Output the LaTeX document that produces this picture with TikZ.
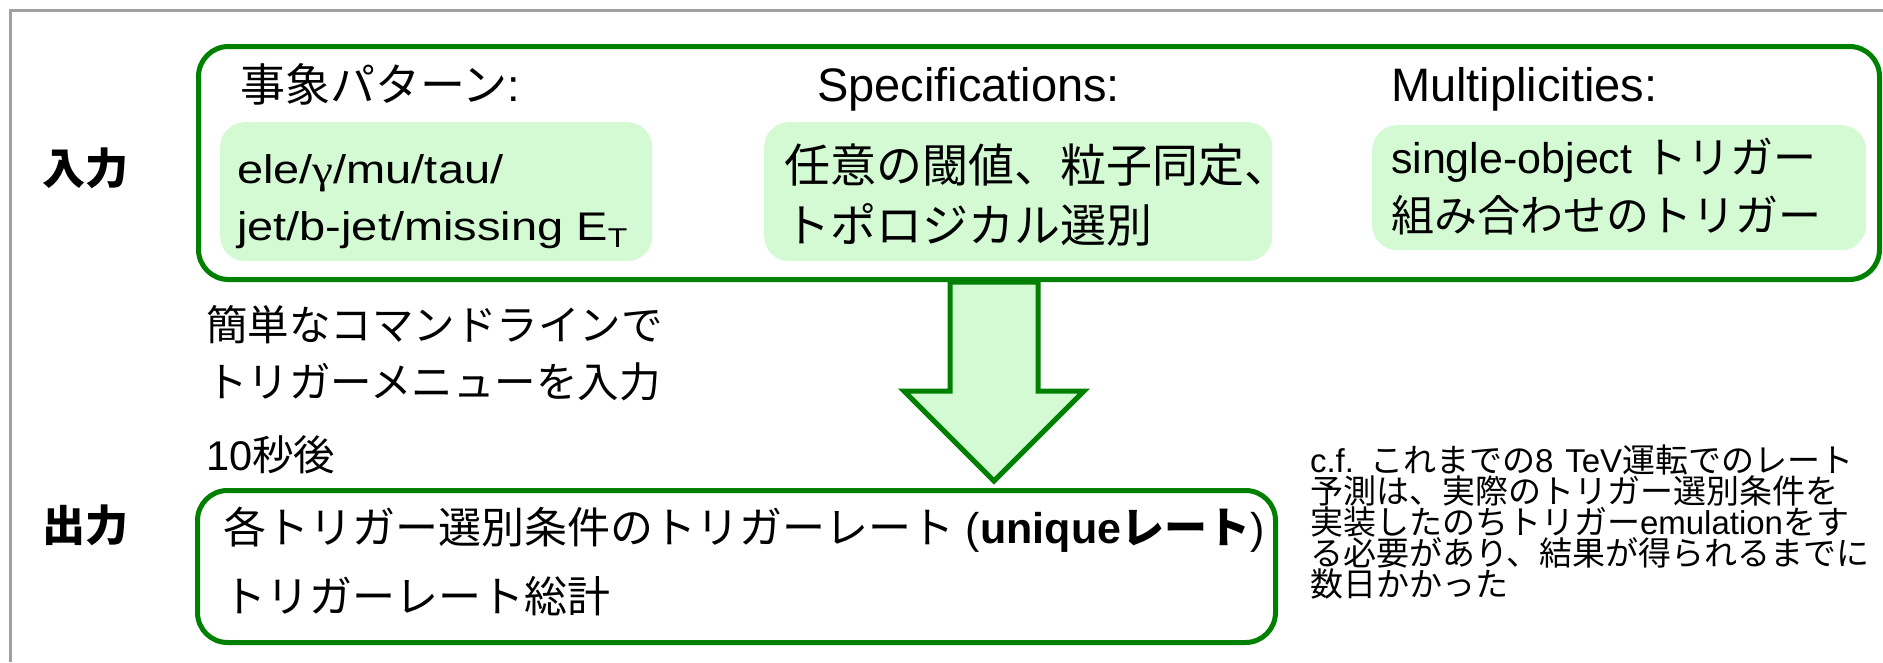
\documentclass[tikz,border=0pt]{standalone}
\usepackage{fontspec}
\usepackage{graphicx}
\usetikzlibrary{calc}
\setmainfont{Liberation Sans}
\newfontfamily\jp{Noto Sans CJK JP}
\newfontfamily\grk{Liberation Serif}
\definecolor{dkgreen}{RGB}{0,128,0}
\definecolor{ltgreen}{RGB}{212,250,212}
\definecolor{framegray}{RGB}{160,160,160}
\tikzset{
  txt/.style={anchor=base west, inner sep=0pt, outer sep=0pt},
  big/.style={font=\fontsize{47}{56}\selectfont},
  mid/.style={font=\fontsize{43}{52}\selectfont},
  small/.style={font=\fontsize{33}{36}\selectfont},
  grpbox/.style={draw=dkgreen, line width=5pt, rounded corners=30pt, anchor=north west, inner sep=0pt},
  subbox/.style={fill=ltgreen, rounded corners=25pt, anchor=north west, inner sep=0pt},
  blockarrow/.style={draw=dkgreen, fill=ltgreen, line width=5pt, line join=miter},
}
\begin{document}
\begin{tikzpicture}[x=1pt,y=-1pt]
\useasboundingbox (0,0) rectangle (1883,662);
\fill[white] (0,0) rectangle (1883,662);
\draw[framegray, line width=3pt] (10,662) -- (10,10) -- (1883,10);

% input group box and its sub boxes
\node[grpbox, minimum width=1681pt, minimum height=233pt] (inbox) at (196,44) {};
\node[subbox, minimum width=432pt, minimum height=139pt] (pat) at (220,122) {};
\node[subbox, minimum width=508pt, minimum height=139pt] (spec) at (764,122) {};
\node[subbox, minimum width=494pt, minimum height=125pt] (mult) at (1372,125) {};

% headers
\node[txt,font=\fontsize{45}{54}\selectfont] (h1) at (240,101) {{\jp 事象パターン}:};
\node[txt,big] (h2) at (817,101) {Specifications:};
\node[txt,big] (h3) at (1391,101) {Multiplicities:};

% box texts
\node[txt,big] (p1) at (237,183) {\scalebox{1}[0.85]{ele/{\grk γ}/mu/tau/}};
\node[txt,big] (p2) at (237,240) {\scalebox{1}[0.85]{jet/b-jet/missing E\raisebox{-9pt}{\fontsize{32}{32}\selectfont T}}};
\node[txt,font=\fontsize{46}{54}\selectfont] (s1) at (784,182) {\jp 任意の閾値、粒子同定、};
\node[txt,font=\fontsize{46}{54}\selectfont] (s2) at (784,242) {\jp トポロジカル選別};
\node[txt,mid] (m1) at (1391,173) {single-object {\jp トリガー}};
\node[txt,mid] (m2) at (1391,231) {\jp 組み合わせのトリガー};

% row labels
\node[txt,mid] (lin) at (42,184) {\jp\bfseries 入力};
\node[txt,mid] (lout) at (42,541) {\jp\bfseries 出力};

% middle texts
\node[txt,font=\fontsize{41.5}{50}\selectfont] (c1) at (206,340) {\jp 簡単なコマンドラインで};
\node[txt,font=\fontsize{41.5}{50}\selectfont] (c2) at (206,397) {\jp トリガーメニューを入力};
\node[txt,font=\fontsize{41.5}{50}\selectfont] (c3) at (206,470) {10{\jp 秒後}};

% output box
\node[grpbox, minimum width=1078pt, minimum height=152pt] (outbox) at (195,488) {};
\node[txt,mid] (o1) at (223,543) {{\jp 各トリガー選別条件のトリガーレート} (\textbf{unique{\jp レート}})};
\node[txt,mid] (o2) at (223,612) {\jp トリガーレート総計};

% block arrow from input box to output box
\coordinate (atop) at (inbox.south -| 994,0);
\coordinate (atip) at ($(outbox.north -| 994,0)+(0,-7)$);
\draw[blockarrow] ($(atop)+(-44,0)$) |- ($(atip)+(-44,-90)$) -- ++(-46,0) -- (atip)
  -- ($(atip)+(90,-90)$) -- ++(-46,0) -- ($(atop)+(44,0)$) -- cycle;

% note
\node[txt,small] (n1) at (1310,472) {c.f.\hspace{16pt}{\jp これまでの}8\hspace{12pt}TeV{\jp 運転でのレート}};
\node[txt,small] (n2) at (1310,503) {\jp 予測は、実際のトリガー選別条件を};
\node[txt,small] (n3) at (1310,534) {{\jp 実装したのちトリガー}emulation{\jp をす}};
\node[txt,small] (n4) at (1310,565) {\jp る必要があり、結果が得られるまでに};
\node[txt,small] (n5) at (1310,596) {\jp 数日かかった};
\end{tikzpicture}
\end{document}
